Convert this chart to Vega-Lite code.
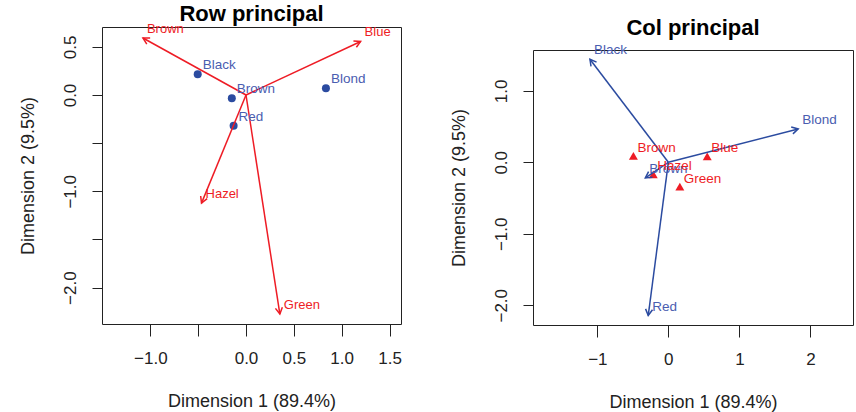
{
  "$schema": "https://vega.github.io/schema/vega-lite/v6.json",
  "padding": {"left": 18, "top": 2, "right": 2, "bottom": 2},
  "background": "white",
  "config": {
    "font": "Liberation Sans",
    "view": {"stroke": "#222", "strokeWidth": 1},
    "axis": {"grid": false, "domain": false, "tickColor": "#222", "tickWidth": 1, "labelColor": "#222", "labelFontSize": 17, "titleFontSize": 18, "titleFontWeight": "normal", "titleColor": "#222", "labelFont": "Liberation Sans", "titleFont": "Liberation Sans", "labelOverlap": false, "labelFlush": false},
    "axisX": {"tickSize": 12, "labelPadding": 14, "titlePadding": 26},
    "axisY": {"tickSize": 10, "labelPadding": 13, "titlePadding": 24, "labelAngle": 270, "labelAlign": "center", "labelBaseline": "bottom"},
    "title": {"fontSize": 22, "fontWeight": "bold", "font": "Liberation Sans", "color": "#000", "frame": "group", "anchor": "middle"}
  },
  "datasets": {
    "row_points": [
      {"name": "Black", "x": -0.5046, "y": 0.2148},
      {"name": "Brown", "x": -0.1483, "y": -0.0327},
      {"name": "Red", "x": -0.1295, "y": -0.3196},
      {"name": "Blond", "x": 0.8353, "y": 0.0696}
    ],
    "row_arrows": [
      {"name": "Brown", "x": -1.077, "y": 0.592},
      {"name": "Blue", "x": 1.198, "y": 0.556},
      {"name": "Hazel", "x": -0.465, "y": -1.123},
      {"name": "Green", "x": 0.354, "y": -2.275}
    ],
    "col_points": [
      {"name": "Brown", "x": -0.4924, "y": 0.0884},
      {"name": "Blue", "x": 0.5474, "y": 0.083},
      {"name": "Hazel", "x": -0.2126, "y": -0.1675},
      {"name": "Green", "x": 0.1617, "y": -0.339}
    ],
    "col_arrows": [
      {"name": "Black", "x": -1.104, "y": 1.441},
      {"name": "Brown", "x": -0.3245, "y": -0.2191},
      {"name": "Red", "x": -0.2835, "y": -2.144},
      {"name": "Blond", "x": 1.828, "y": 0.467}
    ]
  },
  "spacing": 47,
  "hconcat": [
    {
      "width": 299,
      "height": 297,
      "title": {"text": "Row principal", "offset": -3},
      "layer": [
        {
          "data": {"name": "row_points"},
          "mark": {"type": "circle", "size": 64, "color": "#2b4ba0", "opacity": 1},
          "encoding": {
            "x": {"field": "x", "type": "quantitative", "scale": {"domain": [-1.505, 1.62], "nice": false, "zero": false},
                  "axis": {"title": "Dimension 1 (89.4%)", "values": [-1, -0.5, 0, 0.5, 1, 1.5], "labelExpr": "datum.value == -0.5 ? '' : format(datum.value, '.1f')"}},
            "y": {"field": "y", "type": "quantitative", "scale": {"domain": [-2.378, 0.706], "nice": false, "zero": false},
                  "axis": {"title": "Dimension 2 (9.5%)", "values": [-2, -1.5, -1, -0.5, 0, 0.5], "labelExpr": "(datum.value == -0.5 || datum.value == -1.5) ? '' : format(datum.value, '.1f')"}}
          }
        },
        {
          "mark": {"type": "rule", "strokeDash": [1, 2], "color": "#333", "strokeWidth": 1},
          "encoding": {"x": {"datum": 0, "type": "quantitative"}}
        },
        {
          "mark": {"type": "rule", "strokeDash": [1, 2], "color": "#333", "strokeWidth": 1},
          "encoding": {"y": {"datum": 0, "type": "quantitative"}}
        },
        {
          "data": {"name": "row_arrows"},
          "mark": {"type": "rule", "color": "#ee1c25", "strokeWidth": 1.5},
          "encoding": {
            "x": {"field": "x", "type": "quantitative"},
            "y": {"field": "y", "type": "quantitative"},
            "x2": {"datum": 0},
            "y2": {"datum": 0}
          }
        },
        {
          "data": {"name": "row_arrows"},
          "transform": [{"calculate": "atan2(datum.x, datum.y) * 180 / PI", "as": "ang"}],
          "mark": {"type": "point", "shape": "M-0.5,0.9L0,0L0.5,0.9", "filled": false, "color": "#ee1c25", "strokeWidth": 1.5, "size": 196, "opacity": 1},
          "encoding": {
            "x": {"field": "x", "type": "quantitative"},
            "y": {"field": "y", "type": "quantitative"},
            "angle": {"field": "ang", "type": "quantitative", "scale": null}
          }
        },
        {
          "data": {"name": "row_arrows"},
          "mark": {"type": "text", "align": "left", "baseline": "middle", "dx": 4, "dy": -9, "fontSize": 13, "color": "#ee1c25"},
          "encoding": {
            "x": {"field": "x", "type": "quantitative"},
            "y": {"field": "y", "type": "quantitative"},
            "text": {"field": "name"}
          }
        },
        {
          "data": {"name": "row_points"},
          "mark": {"type": "text", "align": "left", "baseline": "middle", "dx": 5, "dy": -9, "fontSize": 13.5, "color": "#4a5db0"},
          "encoding": {
            "x": {"field": "x", "type": "quantitative"},
            "y": {"field": "y", "type": "quantitative"},
            "text": {"field": "name"}
          }
        }
      ]
    },
    {
      "title": {"text": "Col principal", "offset": -13, "dx": 160},
      "spacing": 0,
      "vconcat": [
        {
          "width": 320,
          "height": 15,
          "view": {"stroke": null},
          "data": {"values": [{"k": 1}]},
          "mark": {"type": "point", "opacity": 0},
          "encoding": {}
        },
        {
          "width": 320,
          "height": 275,
          "layer": [
            {
              "data": {"name": "col_points"},
              "mark": {"type": "point", "shape": "triangle-up", "filled": true, "size": 80, "color": "#ee1c25", "opacity": 1},
              "encoding": {
                "x": {"field": "x", "type": "quantitative", "scale": {"domain": [-1.906, 2.6], "nice": false, "zero": false},
                      "axis": {"title": "Dimension 1 (89.4%)", "values": [-1, 0, 1, 2], "labelExpr": "format(datum.value, 'd')"}},
                "y": {"field": "y", "type": "quantitative", "scale": {"domain": [-2.276, 1.571], "nice": false, "zero": false},
                      "axis": {"title": "Dimension 2 (9.5%)", "values": [-2, -1.5, -1, -0.5, 0, 0.5, 1, 1.5], "labelExpr": "datum.value % 1 == 0 ? format(datum.value, '.1f') : ''"}}
              }
            },
            {
              "mark": {"type": "rule", "strokeDash": [1, 2], "color": "#333", "strokeWidth": 1},
              "encoding": {"x": {"datum": 0, "type": "quantitative"}}
            },
            {
              "mark": {"type": "rule", "strokeDash": [1, 2], "color": "#333", "strokeWidth": 1},
              "encoding": {"y": {"datum": 0, "type": "quantitative"}}
            },
            {
              "data": {"name": "col_arrows"},
              "mark": {"type": "rule", "color": "#2b4ba0", "strokeWidth": 1.5},
              "encoding": {
                "x": {"field": "x", "type": "quantitative"},
                "y": {"field": "y", "type": "quantitative"},
                "x2": {"datum": 0},
                "y2": {"datum": 0}
              }
            },
            {
              "data": {"name": "col_arrows"},
              "transform": [{"calculate": "atan2(datum.x, datum.y) * 180 / PI", "as": "ang"}],
              "mark": {"type": "point", "shape": "M-0.5,0.9L0,0L0.5,0.9", "filled": false, "color": "#2b4ba0", "strokeWidth": 1.5, "size": 196, "opacity": 1},
              "encoding": {
                "x": {"field": "x", "type": "quantitative"},
                "y": {"field": "y", "type": "quantitative"},
                "angle": {"field": "ang", "type": "quantitative", "scale": null}
              }
            },
            {
              "data": {"name": "col_arrows"},
              "mark": {"type": "text", "align": "left", "baseline": "middle", "dx": 4, "dy": -9, "fontSize": 13.5, "color": "#4a5db0"},
              "encoding": {
                "x": {"field": "x", "type": "quantitative"},
                "y": {"field": "y", "type": "quantitative"},
                "text": {"field": "name"}
              }
            },
            {
              "data": {"name": "col_points"},
              "mark": {"type": "text", "align": "left", "baseline": "middle", "dx": 4, "dy": -8, "fontSize": 13.5, "color": "#ee1c25"},
              "encoding": {
                "x": {"field": "x", "type": "quantitative"},
                "y": {"field": "y", "type": "quantitative"},
                "text": {"field": "name"}
              }
            }
          ]
        }
      ]
    }
  ]
}
